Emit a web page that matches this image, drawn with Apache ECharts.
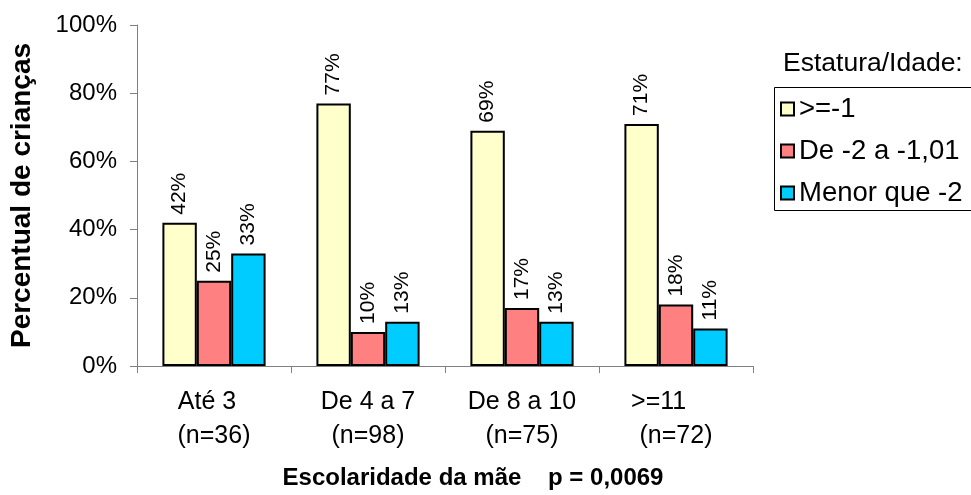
<!DOCTYPE html>
<html>
<head>
<meta charset="utf-8">
<script src="https://cdn.jsdelivr.net/npm/echarts@6/dist/echarts.min.js"></script>
<style>
  html, body { margin: 0; padding: 0; background: #fff; }
  #chart { width: 971px; height: 495px; }
</style>
</head>
<body>
<div id="chart"></div>
<script>
// Maternal schooling groups (first line) and sample sizes (second line)
var groups = ['Até 3  ', 'De 4 a 7', 'De 8 a 10', '>=11     '];
var sampleSizes = ['(n=36)', '(n=98)', '(n=75)', '(n=72)'];

// Height-for-age categories
var seriesNames = ['>=-1', 'De -2 a -1,01', 'Menor que -2'];
var valuesAbove = [42, 77, 69, 71];   // >=-1
var valuesMiddle = [25, 10, 17, 18];  // De -2 a -1,01
var valuesBelow = [33, 13, 13, 11];   // Menor que -2

var yTicks = [0, 20, 40, 60, 80, 100];

var FONT = '"Liberation Sans", Arial, sans-serif';
var colors = ['#FFFFCC', '#FF8080', '#00CCFF'];

var categories = groups.map(function (g, i) { return g + '\n' + sampleSizes[i]; });

function barSeries(name, data, color) {
  return {
    name: name,
    type: 'bar',
    data: data,
    barGap: '0%',
    barCategoryGap: '33%',
    itemStyle: { color: color, borderColor: '#000', borderWidth: 2 },
    label: {
      show: true,
      position: 'top',
      rotate: 90,
      align: 'left',
      verticalAlign: 'middle',
      distance: 8,
      formatter: '{c}%',
      fontFamily: FONT,
      fontSize: 21,
      color: '#000'
    }
  };
}

var chart = echarts.init(document.getElementById('chart'), null, { renderer: 'canvas' });
chart.setOption({
  animation: false,
  backgroundColor: '#fff',
  textStyle: { fontFamily: FONT },
  title: {
    text: 'Estatura/Idade:',
    left: 783,
    top: 50,
    padding: 0,
    textStyle: { fontFamily: FONT, fontSize: 26.5, fontWeight: 'normal', color: '#000' }
  },
  // Legend frame runs off the right edge of the canvas
  graphic: [{
    type: 'rect',
    left: 772,
    top: 85,
    shape: { width: 260, height: 123 },
    style: { fill: 'none', stroke: '#000', lineWidth: 1 },
    silent: true
  }],
  legend: {
    orient: 'vertical',
    left: 772,
    top: 85,
    padding: [10, 10, 5, 8],
    itemWidth: 13,
    itemHeight: 13,
    itemGap: 14,
    borderWidth: 0,
    icon: 'rect',
    itemStyle: { borderColor: '#000', borderWidth: 2 },
    textStyle: { fontFamily: FONT, fontSize: 27.5, color: '#000' },
    data: seriesNames
  },
  grid: { left: 137, right: 218, top: 25, bottom: 129 },
  xAxis: {
    type: 'category',
    data: categories,
    axisLine: { lineStyle: { color: '#808080', width: 1 } },
    axisTick: { show: true, length: 7, lineStyle: { color: '#808080' } },
    axisLabel: {
      interval: 0,
      margin: 19,
      fontFamily: FONT,
      fontSize: 25,
      lineHeight: 34,
      color: '#000'
    },
    name: 'Escolaridade da mãe    p = 0,0069',
    nameLocation: 'middle',
    nameGap: 100,
    nameTextStyle: {
      fontFamily: FONT,
      fontSize: 24,
      fontWeight: 'bold',
      color: '#000',
      padding: [0, 0, 0, 56]
    }
  },
  yAxis: {
    type: 'value',
    min: yTicks[0],
    max: yTicks[yTicks.length - 1],
    interval: yTicks[1] - yTicks[0],
    axisLine: { show: true, lineStyle: { color: '#808080', width: 1 } },
    axisTick: { show: true, length: 7, lineStyle: { color: '#808080' } },
    splitLine: { show: false },
    axisLabel: {
      formatter: '{value}%',
      margin: 20,
      fontFamily: FONT,
      fontSize: 24,
      color: '#000'
    },
    name: 'Percentual de crianças',
    nameLocation: 'middle',
    nameGap: 101,
    nameTextStyle: {
      fontFamily: FONT,
      fontSize: 28,
      fontWeight: 'bold',
      color: '#000'
    }
  },
  series: [
    barSeries(seriesNames[0], valuesAbove, colors[0]),
    barSeries(seriesNames[1], valuesMiddle, colors[1]),
    barSeries(seriesNames[2], valuesBelow, colors[2])
  ]
});
</script>
</body>
</html>
